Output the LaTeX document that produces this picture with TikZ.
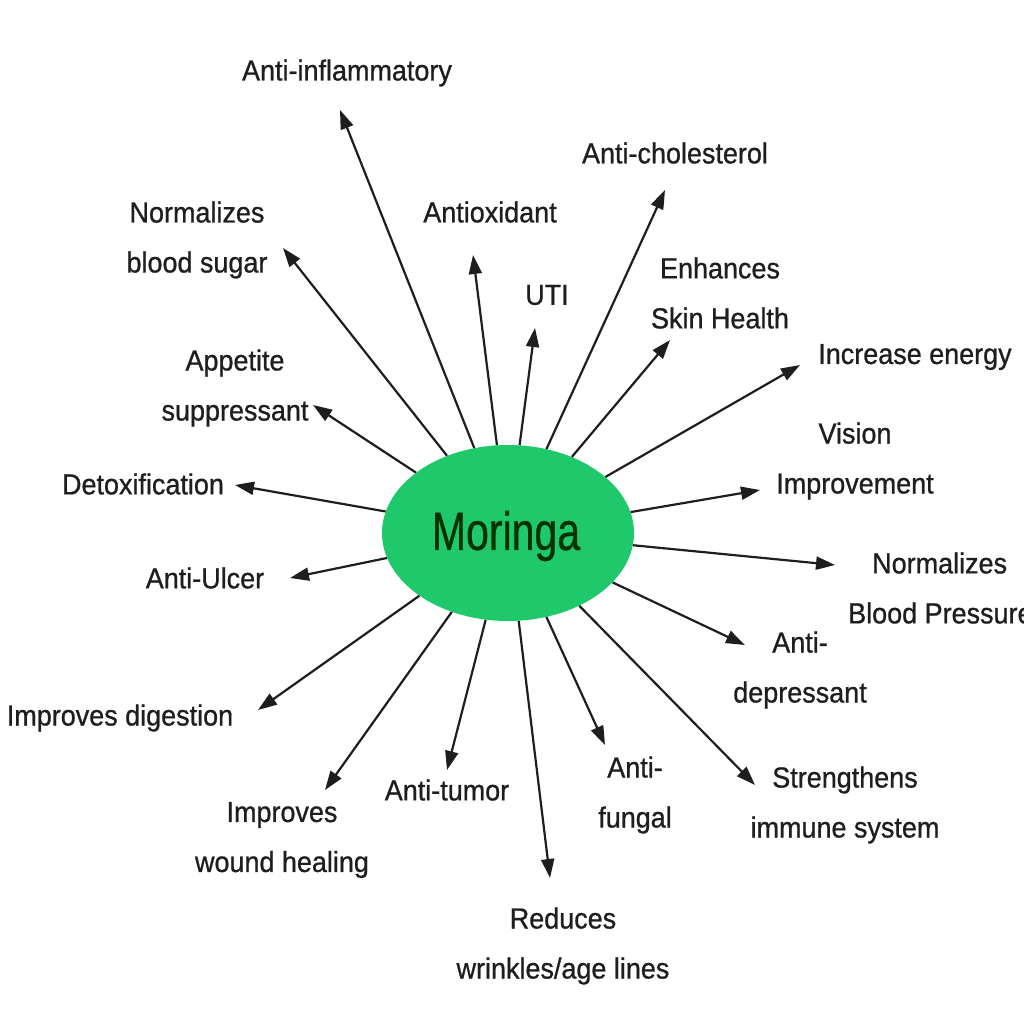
\documentclass[tikz,border=0pt]{standalone}
\usepackage{fontspec}
\setmainfont[FakeStretch=0.93,FakeBold=0.8]{Liberation Sans}
\newfontfamily\morfont[FakeStretch=0.76,FakeBold=0.6]{Liberation Sans}
\usetikzlibrary{shapes.geometric,arrows.meta}
\definecolor{mgreen}{RGB}{32,200,108}
\definecolor{ink}{RGB}{30,30,30}
\begin{document}
\begin{tikzpicture}[x=1pt,y=-1pt,
  lbl/.style={text=ink,align=center,inner sep=0pt,font=\fontsize{29}{50}\selectfont},
  arr/.style={draw=ink,line width=2.2pt,-{Triangle[length=19pt,width=13pt]}}]
\useasboundingbox[fill=white] (0,0) rectangle (1024,1024);
\node[ellipse,fill=mgreen,minimum width=252pt,minimum height=176pt,inner sep=0pt] (m) at (508,533) {};
\node[text=black!80!green,inner sep=0pt,font=\morfont\fontsize{54}{60}\selectfont] (mt) at (506,536) {Moringa};
% tips
\coordinate (t1) at (340,110);
\coordinate (t2) at (283,248);
\coordinate (t3) at (473,255);
\coordinate (t4) at (535,328);
\coordinate (t5) at (665,190);
\coordinate (t6) at (670,340);
\coordinate (t7) at (800,365);
\coordinate (t8) at (313,405);
\coordinate (t9) at (235,485);
\coordinate (t10) at (760,490);
\coordinate (t11) at (290,578);
\coordinate (t12) at (835,565);
\coordinate (t13) at (745,645);
\coordinate (t14) at (258,710);
\coordinate (t15) at (325,790);
\coordinate (t16) at (447,770);
\coordinate (t17) at (550,878);
\coordinate (t18) at (605,745);
\coordinate (t19) at (755,785);
\foreach \i in {1,...,19} {\draw[arr] (m) -- (t\i);}
% labels
\node[lbl] (l1) at (347,73) {Anti-inflammatory};
\node[lbl] (l2) at (197,240) {Normalizes\\blood sugar};
\node[lbl] (l3) at (490,212) {Antioxidant};
\node[lbl] (l4) at (547,295) {UTI};
\node[lbl] (l5) at (675,153) {Anti-cholesterol};
\node[lbl] (l6) at (720,293) {Enhances\\Skin Health};
\node[lbl] (l7) at (915,357) {Increase energy};
\node[lbl] (l8) at (235,388) {Appetite\\suppressant};
\node[lbl] (l9) at (143,484) {Detoxification};
\node[lbl] (l10) at (855,461) {Vision\\Improvement};
\node[lbl] (l11) at (205,578) {Anti-Ulcer};
\node[lbl,align=left,anchor=west] (l12) at (848,588) {\hspace*{24pt}Normalizes\\Blood Pressure};
\node[lbl] (l13) at (800,670) {Anti-\\depressant};
\node[lbl] (l14) at (120,718) {Improves digestion};
\node[lbl] (l15) at (282,840) {Improves\\wound healing};
\node[lbl] (l16) at (447,790) {Anti-tumor};
\node[lbl] (l17) at (563,946) {Reduces\\wrinkles/age lines};
\node[lbl] (l18) at (635,795) {Anti-\\fungal};
\node[lbl] (l19) at (845,805) {Strengthens\\immune system};
\end{tikzpicture}
\end{document}
